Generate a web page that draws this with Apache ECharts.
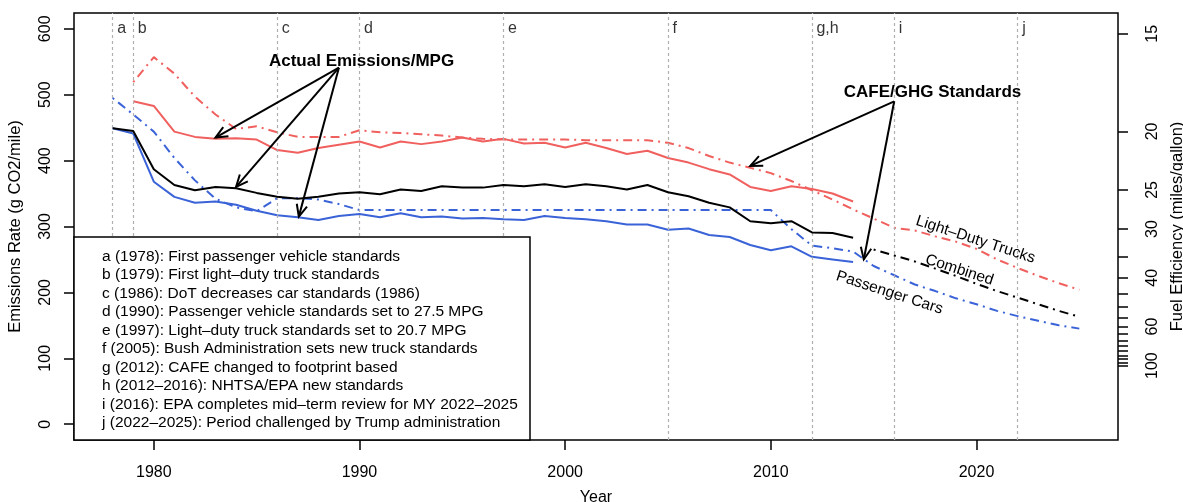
<!DOCTYPE html>
<html><head><meta charset="utf-8">
<script src="https://cdn.jsdelivr.net/npm/echarts@6/dist/echarts.min.js"></script>
<style>html,body{margin:0;padding:0;background:#fff}#chart{width:1183px;height:502px}</style>
</head><body><div id="chart"></div>
<script>
// ---------------- data ----------------
const actualYears = [1978,1979,1980,1981,1982,1983,1984,1985,1986,1987,1988,1989,1990,1991,1992,1993,1994,1995,1996,1997,1998,1999,2000,2001,2002,2003,2004,2005,2006,2007,2008,2009,2010,2011,2012,2013,2014];
const carActual      = [449,441,368,345,336,338,333,324,317,314,310,316,319,314,320,314,315,312,313,311,310,316,313,311,308,303,303,295,297,287,284,272,264,270,254,250,246];
const truckActual    = [null,490,483,444,436,433,434,432,416,412,419,424,429,420,429,425,429,435,429,433,426,427,420,427,419,410,415,404,397,387,379,360,354,361,357,350,338];
const combinedActual = [449,445,387,363,355,360,358,351,345,342,345,350,352,349,356,354,361,359,359,363,361,364,360,364,361,356,363,352,346,336,329,308,305,308,291,290,283];

const standardYears = [1978,1979,1980,1981,1982,1983,1984,1985,1986,1987,1988,1989,1990,1991,1992,1993,1994,1995,1996,1997,1998,1999,2000,2001,2002,2003,2004,2005,2006,2007,2008,2009,2010,2011,2012,2013,2014,2015,2016,2017,2018,2019,2020,2021,2022,2023,2024,2025];
const carStandard   = [495,470,444,404,370,342,329,323,343,343,341,334,325,325,325,325,325,325,325,325,325,325,325,325,325,325,325,325,325,325,325,325,325,296,271,267,262,240,226,212,202,191,182,172,164,157,150,145];
const truckStandard = [null,519,557,532,497,470,448,452,443,436,436,436,446,443,442,440,438,435,433,432,432,432,432,431,431,431,431,427,419,407,397,389,381,369,355,341,326,312,298,294,285,277,266,250,237,225,214,204];

const combinedStdYears = [2015,2016,2017,2018,2019,2020,2021,2022,2023,2024,2025];
const combinedStandard = [265,256,247,236,225,213,202,192,182,172,163];

const eventYears   = [1978,1979,1986,1990,1997,2005,2012,2016,2022];
const eventLetters = ['a','b','c','d','e','f','g,h','i','j'];
const noteLines = [
  'a (1978): First passenger vehicle standards',
  'b (1979): First light\u2013duty truck standards',
  'c (1986): DoT decreases car standards (1986)',
  'd (1990): Passenger vehicle standards set to 27.5 MPG',
  'e (1997): Light\u2013duty truck standards set to 20.7 MPG',
  'f (2005): Bush Administration sets new truck standards',
  'g (2012): CAFE changed to footprint based',
  'h (2012\u20132016): NHTSA/EPA new standards',
  'i (2016): EPA completes mid\u2013term review for MY 2022\u20132025',
  'j (2022\u20132025): Period challenged by Trump administration'
];

const yearTicks = [1980,1990,2000,2010,2020];
const emissionTicks = [0,100,200,300,400,500,600];
const mpgTicks = [15,20,25,30,35,40,45,50,55,60,65,70,75,80,85,90,95,100];
const mpgLabels = [15,20,25,30,40,60,100];
const GRAMS_CO2_PER_GALLON = 8887;

// ---------------- styles ----------------
const FONT = '"Liberation Sans", Arial, Helvetica, sans-serif';
const RED = '#F0605E', BLUE = '#3B63D8', BLACK = '#000000';
const DASHDOT = [2,5,9,5];
const pair = (xs, ys) => xs.map((x, i) => [x, ys[i]]);

const option = {
  animation: false,
  backgroundColor: '#ffffff',
  grid: { left: 74, right: 65, top: 13, bottom: 62, outerBoundsMode: 'none', containLabel: false,
    show: true, borderColor: '#000', borderWidth: 1.5, backgroundColor: 'transparent' },
  xAxis: {
    type: 'value', min: 1976.12, max: 2026.88,
    name: 'Year', nameLocation: 'middle', nameGap: 50,
    nameTextStyle: { fontFamily: FONT, fontSize: 16, color: '#000' },
    axisLine: { show: false, onZero: false }, splitLine: { show: false },
    axisTick: { show: true, length: 10, customValues: yearTicks, lineStyle: { color: '#000', width: 1.5 } },
    axisLabel: { customValues: yearTicks, margin: 25, fontFamily: FONT, fontSize: 16, color: '#000',
      formatter: v => String(Math.round(v)) }
  },
  yAxis: [{
    type: 'value', min: -24, max: 624, position: 'left',
    name: 'Emissions Rate (g CO2/mile)', nameLocation: 'middle', nameGap: 50, nameRotate: 90,
    nameTextStyle: { fontFamily: FONT, fontSize: 16.5, color: '#000' },
    axisLine: { show: false, onZero: false }, splitLine: { show: false },
    axisTick: { show: true, length: 10, customValues: emissionTicks, lineStyle: { color: '#000', width: 1.5 } },
    axisLabel: { customValues: emissionTicks, rotate: 90, margin: 20, fontFamily: FONT, fontSize: 16, color: '#000',
      formatter: v => String(Math.round(v)) }
  }, {
    type: 'value', min: -24, max: 624, position: 'right',
    name: 'Fuel Efficiency (miles/gallon)', nameLocation: 'middle', nameGap: 48, nameRotate: 90,
    nameTextStyle: { fontFamily: FONT, fontSize: 16.5, color: '#000' },
    axisLine: { show: false, onZero: false }, splitLine: { show: false },
    axisTick: { show: true, length: 10, customValues: mpgTicks.map(m => GRAMS_CO2_PER_GALLON / m), lineStyle: { color: '#000', width: 1.5 } },
    axisLabel: { customValues: mpgLabels.map(m => GRAMS_CO2_PER_GALLON / m), rotate: 90, margin: 27, fontFamily: FONT, fontSize: 16, color: '#000',
      formatter: v => String(Math.round(GRAMS_CO2_PER_GALLON / v)) }
  }],
  series: [
    { type: 'scatter', name: 'events', symbolSize: 1, itemStyle: { color: 'rgba(0,0,0,0)' }, silent: true, z: 1,
      data: eventYears.map(y => [y, 601]),
      label: { show: true, position: 'right', distance: 4, fontFamily: FONT, fontSize: 16, color: '#000',
        formatter: p => eventLetters[p.dataIndex] },
      markLine: { silent: true, symbol: ['none','none'], label: { show: false },
        lineStyle: { type: [3,3], color: '#b0b0b0', width: 1.2 },
        data: eventYears.map(y => ({ xAxis: y })) } },
    { type: 'line', name: 'Truck standard', data: pair(standardYears, truckStandard), showSymbol: false,
      lineStyle: { color: RED, width: 2, type: DASHDOT }, itemStyle: { color: RED }, z: 3 },
    { type: 'line', name: 'Car standard', data: pair(standardYears, carStandard), showSymbol: false,
      lineStyle: { color: BLUE, width: 2, type: DASHDOT }, itemStyle: { color: BLUE }, z: 3 },
    { type: 'line', name: 'Combined standard', data: pair(combinedStdYears, combinedStandard), showSymbol: false,
      lineStyle: { color: BLACK, width: 2, type: DASHDOT }, itemStyle: { color: BLACK }, z: 3 },
    { type: 'line', name: 'Truck actual', data: pair(actualYears, truckActual), showSymbol: false,
      lineStyle: { color: RED, width: 2 }, itemStyle: { color: RED }, z: 4 },
    { type: 'line', name: 'Car actual', data: pair(actualYears, carActual), showSymbol: false,
      lineStyle: { color: BLUE, width: 2 }, itemStyle: { color: BLUE }, z: 4 },
    { type: 'line', name: 'Combined actual', data: pair(actualYears, combinedActual), showSymbol: false,
      lineStyle: { color: BLACK, width: 2 }, itemStyle: { color: BLACK }, z: 5 }
  ]
};

const chart = echarts.init(document.getElementById('chart'), null, { renderer: 'canvas' });
chart.setOption(option);

// ---------------- annotations ----------------
const px = (x, y) => chart.convertToPixel({ xAxisIndex: 0, yAxisIndex: 0 }, [x, y]);

function arrow(from, to) {
  const a = px(from[0], from[1]), b = px(to[0], to[1]);
  const ang = Math.atan2(b[1] - a[1], b[0] - a[0]);
  const L = 13, w = Math.PI / 7.5;
  const h1 = [b[0] - L * Math.cos(ang - w), b[1] - L * Math.sin(ang - w)];
  const h2 = [b[0] - L * Math.cos(ang + w), b[1] - L * Math.sin(ang + w)];
  return [
    { type: 'line', z: 60, shape: { x1: a[0], y1: a[1], x2: b[0], y2: b[1] }, style: { stroke: '#000', lineWidth: 2 } },
    { type: 'polyline', z: 60, shape: { points: [h1, b, h2] }, style: { stroke: '#000', lineWidth: 2, fill: null } }
  ];
}
function label(at, text, opts) {
  const p = px(at[0], at[1]);
  return Object.assign({ type: 'text', z: 60, x: p[0], y: p[1],
    style: Object.assign({ text: text, fontFamily: FONT, fontSize: 15.5, fill: '#000', align: 'center', verticalAlign: 'middle' }, opts || {}) });
}

const actualFrom = [1989.0, 541];
const actualTo = [[1983.0, 435], [1984.0, 360], [1987.05, 315]];
const cafeFrom = [2016.0, 490];
const cafeTo = [[2009.0, 392], [2014.52, 250]];

const graphics = [];
actualTo.forEach(t => graphics.push(...arrow(actualFrom, t)));
cafeTo.forEach(t => graphics.push(...arrow(cafeFrom, t)));
graphics.push(label([1990.1, 550.5], 'Actual Emissions/MPG', { fontWeight: 'bold', fontSize: 17 }));
graphics.push(label([2017.86, 503], 'CAFE/GHG Standards', { fontWeight: 'bold', fontSize: 17 }));
const rot = -18 * Math.PI / 180;
[[[2019.95, 280], 'Light\u2013Duty Trucks'], [[2019.17, 234], 'Combined'], [[2015.77, 199.5], 'Passenger Cars']]
  .forEach(([at, t]) => { const g = label(at, t); g.rotation = rot; graphics.push(g); });

// note box
const boxLeft = 74, boxTop = 237, boxRight = 530, boxBottom = 440;
graphics.push({ type: 'rect', z: 80, shape: { x: boxLeft, y: boxTop, width: boxRight - boxLeft, height: boxBottom - boxTop },
  style: { fill: '#fff', stroke: '#000', lineWidth: 1.5 } });
noteLines.forEach((t, i) => graphics.push({ type: 'text', z: 81, x: 102, y: 256.7 + i * 18.5,
  style: { text: t, fontFamily: FONT, fontSize: 15.5, fill: '#000', align: 'left', verticalAlign: 'middle' } }));

chart.setOption({ graphic: { elements: graphics } });
</script></body></html>
